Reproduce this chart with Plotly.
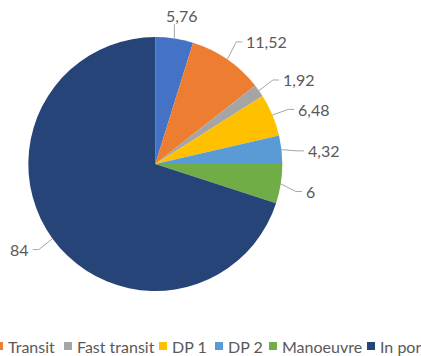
import math
import plotly.graph_objects as go

# Operating-mode shares (%), clockwise from 12 o'clock
modes = ["Standby", "Transit", "Fast transit", "DP 1", "DP 2", "Manoeuvre", "In port"]
shares = [5.76, 11.52, 1.92, 6.48, 4.32, 6, 84]
colors = ["#4472C4", "#ED7D31", "#A5A5A5", "#FFC000", "#5B9BD5", "#70AD47", "#264478"]

W, H = 421, 356
CX, CY, R = 155.3, 164.0, 127.0          # pie centre / radius in pixels
LABEL_R = 1.19 * R                       # where the value labels sit
LABEL_SHIFT = math.radians(1.5)          # labels trail the slice middle slightly
TEXT = "#595959"
LINE = "#A6A6A6"
FONT = "Lato"
FS = 16

# legend row layout (pixel x of each swatch; the row runs past the left edge)
LEG_X = [-84, -5, 64, 159, 215, 269, 367]
LEG_Y = 346


def px(x):
    return x / W


def py(y):
    return 1 - y / H


def fmt(v):
    s = f"{v:g}"
    return s.replace(".", ",")


fig = go.Figure(go.Pie(
    labels=modes,
    values=shares,
    marker=dict(colors=colors, line=dict(width=0)),
    sort=False,
    direction="clockwise",
    rotation=0,
    textinfo="none",
    hoverinfo="label+value",
    showlegend=False,
    domain=dict(x=[px(CX - R), px(CX + R)], y=[py(CY + R), py(CY - R)]),
))

shapes = []
annotations = []

# value labels with leader lines
total = sum(shares)
cum = 0.0
for v in shares:
    theta = 2 * math.pi * (cum + v / 2) / total
    cum += v
    s, c = math.sin(theta), -math.cos(theta)
    ex, ey = CX + R * s, CY + R * c
    ls, lc = math.sin(theta + LABEL_SHIFT), -math.cos(theta + LABEL_SHIFT)
    ax, ay = CX + LABEL_R * ls, CY + LABEL_R * lc
    if abs(s) < 0.3:
        # label sits above/below the slice; straight leader
        path = f"M{px(ex)},{py(ey)} L{px(ex)},{py(ay + (9 if c < 0 else -9))}"
        xanchor = "center"
    else:
        side = 1 if s > 0 else -1
        elbow = ax - 8 * side
        path = (f"M{px(ex)},{py(ey)} L{px(elbow)},{py(ay)} "
                f"L{px(ax - 2 * side)},{py(ay)}")
        xanchor = "left" if side > 0 else "right"
    shapes.append(dict(type="path", path=path, xref="paper", yref="paper",
                       line=dict(color=LINE, width=1)))
    annotations.append(dict(x=px(ax), y=py(ay), xref="paper", yref="paper",
                            text=fmt(v), showarrow=False, xanchor=xanchor,
                            yanchor="middle",
                            font=dict(family=FONT, size=FS, color=TEXT)))

# legend row (entries that fall wholly past the left edge are not drawn)
for name, col, lx in zip(modes, colors, LEG_X):
    if lx + 8 <= 0:
        continue
    shapes.append(dict(type="rect", xref="paper", yref="paper",
                       x0=px(lx), x1=px(lx + 8), y0=py(LEG_Y + 4), y1=py(LEG_Y - 4),
                       fillcolor=col, line=dict(width=0)))
    annotations.append(dict(x=px(lx + 11), y=py(LEG_Y), xref="paper", yref="paper",
                            text=name, showarrow=False, xanchor="left",
                            yanchor="middle",
                            font=dict(family=FONT, size=FS, color=TEXT)))

fig.update_layout(
    width=W, height=H,
    margin=dict(l=0, r=0, t=0, b=0, autoexpand=False),
    paper_bgcolor="white",
    plot_bgcolor="white",
    shapes=shapes,
    annotations=annotations,
)

fig.write_html("out.html")
